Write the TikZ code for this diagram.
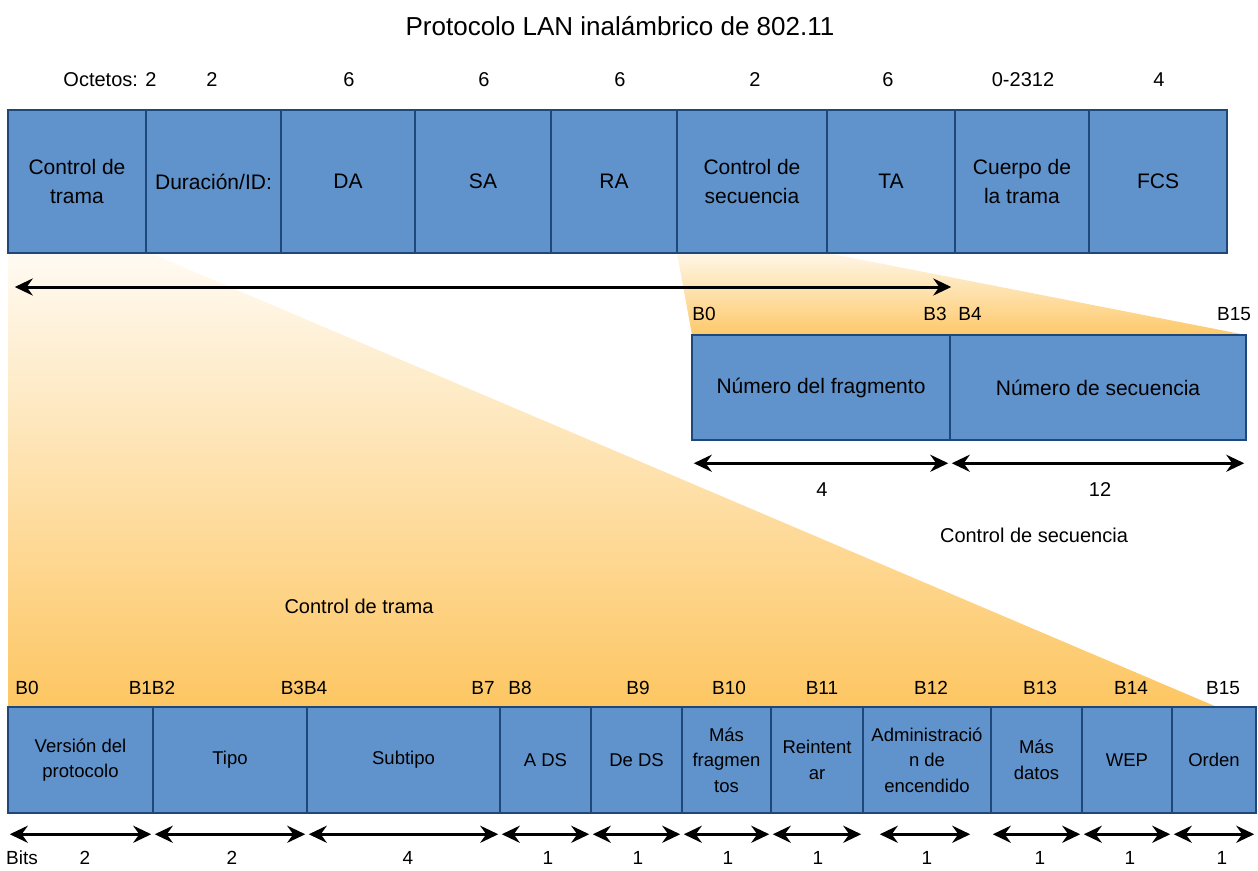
\documentclass[tikz,border=0pt]{standalone}
\usepackage{fontspec}
\setmainfont{Liberation Sans}
\usetikzlibrary{arrows.meta}
\definecolor{fldblue}{RGB}{96,146,203}
\definecolor{fldline}{RGB}{30,72,122}
\definecolor{orng}{RGB}{253,198,98}
\begin{document}
\begin{tikzpicture}[x=1pt,y=-1pt,
  fld/.style={draw=fldline, line width=2.5pt, fill=fldblue, minimum height=143pt, inner sep=0pt, align=center, font=\fontsize{21}{29}\selectfont},
  seqfld/.style={fld, minimum height=105pt},
  subfld/.style={fld, minimum height=106pt, font=\fontsize{18.5}{25.5}\selectfont},
  lbl/.style={inner sep=0pt, font=\fontsize{20}{24}\selectfont},
  bitlbl/.style={inner sep=0pt, font=\fontsize{19}{22}\selectfont},
  dimarrow/.style={line width=3pt, shorten <=3pt, shorten >=3pt, {Stealth[length=18pt,width=17pt,inset=6pt]}-{Stealth[length=18pt,width=17pt,inset=6pt]}}]
\useasboundingbox (0,0) rectangle (1258,870);

\shade[top color=orng!8, bottom color=orng] (8,253) -- (150,253) -- (1217,707) -- (8,707) -- cycle;
\shade[top color=orng!15, bottom color=orng!95] (677,253) -- (827,253) -- (1246,335) -- (692,335) -- cycle;

\node[lbl, font=\fontsize{26}{30}\selectfont] (title) at (620,26) {Protocolo LAN inalámbrico de 802.11};

\node[lbl] (o-ctrl) at (110,80) {Octetos: 2};
\node[lbl] (o-dur) at (212,80) {2};
\node[lbl] (o-da) at (349,80) {6};
\node[lbl] (o-sa) at (484,80) {6};
\node[lbl] (o-ra) at (620,80) {6};
\node[lbl] (o-seq) at (755,80) {2};
\node[lbl] (o-ta) at (888,80) {6};
\node[lbl] (o-body) at (1023,80) {0-2312};
\node[lbl] (o-fcs) at (1159,80) {4};

\node[fld, minimum width=138pt] (ctrl) at (77,181.5) {Control de\\trama};
\node[fld, minimum width=135pt] (dur) at (213.5,181.5) {Duración/ID:};
\node[fld, minimum width=134pt] (da) at (348,181.5) {DA};
\node[fld, minimum width=136pt] (sa) at (483,181.5) {SA};
\node[fld, minimum width=126pt] (ra) at (614,181.5) {RA};
\node[fld, minimum width=150pt] (seq) at (752,181.5) {Control de\\secuencia};
\node[fld, minimum width=128pt] (ta) at (891,181.5) {TA};
\node[fld, minimum width=134pt] (body) at (1022,181.5) {Cuerpo de\\la trama};
\node[fld, minimum width=138pt] (fcs) at (1158,181.5) {FCS};

\node[seqfld, minimum width=258pt] (frag) at (821,387.5) {Número del fragmento};
\node[seqfld, minimum width=296pt] (num) at (1098,387.5) {Número de secuencia};

\draw[dimarrow, shorten <=8pt, shorten >=0pt] (ctrl.south west |- 0,287) -- (frag.north east |- 0,287);

\node[bitlbl] (s-b0) at (704,314) {B0};
\node[bitlbl] (s-b3) at (935,314) {B3};
\node[bitlbl] (s-b4) at (970,314) {B4};
\node[bitlbl] (s-b15) at (1234,314) {B15};

\draw[dimarrow] ([yshift=-22pt]frag.south west) -- ([yshift=-22pt]frag.south east);
\draw[dimarrow] ([yshift=-22pt]num.south west) -- ([yshift=-22pt]num.south east);
\node[lbl] (n-frag) at (822,490) {4};
\node[lbl] (n-num) at (1100,490) {12};
\node[lbl] (seqname) at (1034,535) {Control de secuencia};

\node[lbl] (ctrlname) at (359,606) {Control de trama};

\node[bitlbl] (b0) at (27,688) {B0};
\node[bitlbl] (b1b2) at (152,688) {B1B2};
\node[bitlbl] (b3b4) at (304,688) {B3B4};
\node[bitlbl] (b7) at (483,688) {B7};
\node[bitlbl] (b8) at (520,688) {B8};
\node[bitlbl] (b9) at (638,688) {B9};
\node[bitlbl] (b10) at (729,688) {B10};
\node[bitlbl] (b11) at (822,688) {B11};
\node[bitlbl] (b12) at (931,688) {B12};
\node[bitlbl] (b13) at (1040,688) {B13};
\node[bitlbl] (b14) at (1131,688) {B14};
\node[bitlbl] (b15) at (1223,688) {B15};

\node[subfld, minimum width=145pt] (ver) at (80.5,760) {Versión del\\protocolo};
\node[subfld, minimum width=154pt] (tipo) at (230,760) {Tipo};
\node[subfld, minimum width=193pt] (sub) at (403.5,760) {Subtipo};
\node[subfld, minimum width=91pt] (ads) at (545.5,760) {A DS};
\node[subfld, minimum width=91pt] (dds) at (636.5,760) {De DS};
\node[subfld, minimum width=89pt] (mfr) at (726.5,760) {Más\\fragmen\\tos};
\node[subfld, minimum width=92pt] (rei) at (817,760) {Reintent\\ar};
\node[subfld, minimum width=128pt] (adm) at (927,760) {Administració\\n de\\encendido};
\node[subfld, minimum width=91pt] (mdat) at (1036.5,760) {Más\\datos};
\node[subfld, minimum width=90pt] (wep) at (1127,760) {WEP};
\node[subfld, minimum width=84pt] (ord) at (1214,760) {Orden};

\draw[dimarrow] ([yshift=-20pt]ver.south west) -- ([yshift=-20pt]ver.south east);
\draw[dimarrow] ([yshift=-20pt]tipo.south west) -- ([yshift=-20pt]tipo.south east);
\draw[dimarrow] ([yshift=-20pt]sub.south west) -- ([yshift=-20pt]sub.south east);
\draw[dimarrow] ([yshift=-20pt]ads.south west) -- ([yshift=-20pt]ads.south east);
\draw[dimarrow] ([yshift=-20pt]dds.south west) -- ([yshift=-20pt]dds.south east);
\draw[dimarrow] ([yshift=-20pt]mfr.south west) -- ([yshift=-20pt]mfr.south east);
\draw[dimarrow] ([yshift=-20pt]rei.south west) -- ([yshift=-20pt]rei.south east);
\draw[dimarrow, shorten <=18pt, shorten >=22pt] ([yshift=-20pt]adm.south west) -- ([yshift=-20pt]adm.south east);
\draw[dimarrow] ([yshift=-20pt]mdat.south west) -- ([yshift=-20pt]mdat.south east);
\draw[dimarrow] ([yshift=-20pt]wep.south west) -- ([yshift=-20pt]wep.south east);
\draw[dimarrow] ([yshift=-20pt]ord.south west) -- ([yshift=-20pt]ord.south east);

\node[bitlbl] (bits) at (22,858) {Bits};
\node[bitlbl] (n-ver) at (85,858) {2};
\node[bitlbl] (n-tipo) at (232,858) {2};
\node[bitlbl] (n-sub) at (408,858) {4};
\node[bitlbl] (n-ads) at (548,858) {1};
\node[bitlbl] (n-dds) at (638,858) {1};
\node[bitlbl] (n-mfr) at (728,858) {1};
\node[bitlbl] (n-rei) at (818,858) {1};
\node[bitlbl] (n-adm) at (927,858) {1};
\node[bitlbl] (n-mdat) at (1040,858) {1};
\node[bitlbl] (n-wep) at (1130,858) {1};
\node[bitlbl] (n-ord) at (1222,858) {1};
\end{tikzpicture}
\end{document}
